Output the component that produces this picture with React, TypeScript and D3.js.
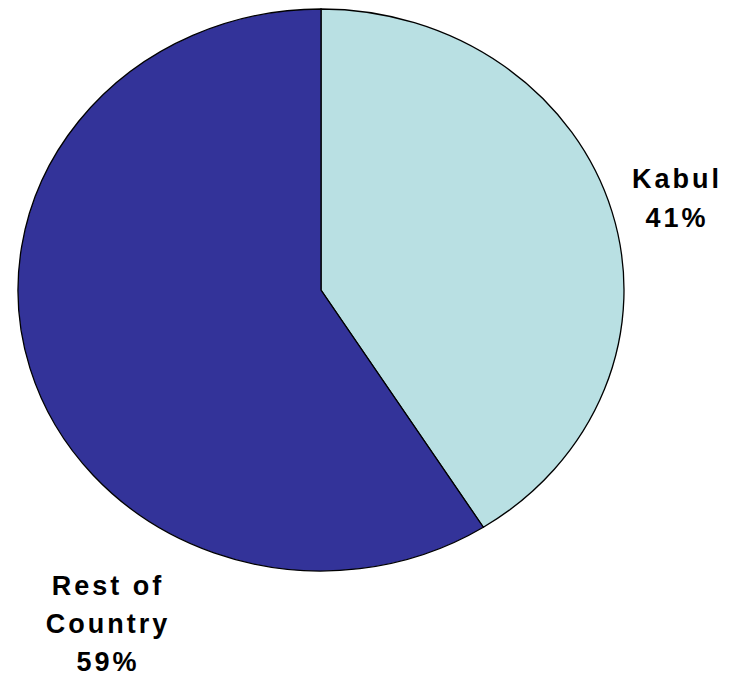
import React from 'react';
import * as d3 from 'd3';

const categories = ['Kabul', 'Rest of Country'];
const values = [41, 59];
const colors = ['#B9E0E3', '#333399'];
const labelLines = [['Kabul', '41%'], ['Rest of', 'Country', '59%']];

const width = 733;
const height = 676;
const cx = 321;
const cy = 290;
const rx = 303;
const ry = 281;

const App = () => {
  const pie = d3.pie<number>().sort(null).value((d) => d);
  const arcs = pie(values);
  const arc = d3.arc<d3.PieArcDatum<number>>().innerRadius(0).outerRadius(ry);

  // label positions (centre x, first baseline) next to each slice
  const labelPos = [
    { x: 677, y: 188, dy: 39 },
    { x: 108, y: 595, dy: 38 },
  ];

  return (
    <svg
      width={width}
      height={height}
      style={{ position: 'absolute', left: 0, top: 0, background: '#fff' }}
    >
      <g transform={`translate(${cx},${cy}) scale(${rx / ry},1)`}>
        {arcs.map((a, i) => (
          <path
            key={categories[i]}
            d={arc(a) || ''}
            fill={colors[i]}
            stroke="#000"
            strokeWidth={1.3}
            vectorEffect="non-scaling-stroke"
          />
        ))}
      </g>
      {labelLines.map((lines, i) => (
        <text
          key={categories[i]}
          textAnchor="middle"
          fontFamily="Liberation Sans, Arial, sans-serif"
          fontWeight="bold"
          fontSize={27}
          letterSpacing={3}
          fill="#000"
        >
          {lines.map((t, j) => (
            <tspan key={j} x={labelPos[i].x} y={labelPos[i].y + j * labelPos[i].dy}>
              {t}
            </tspan>
          ))}
        </text>
      ))}
    </svg>
  );
};

export default App;
